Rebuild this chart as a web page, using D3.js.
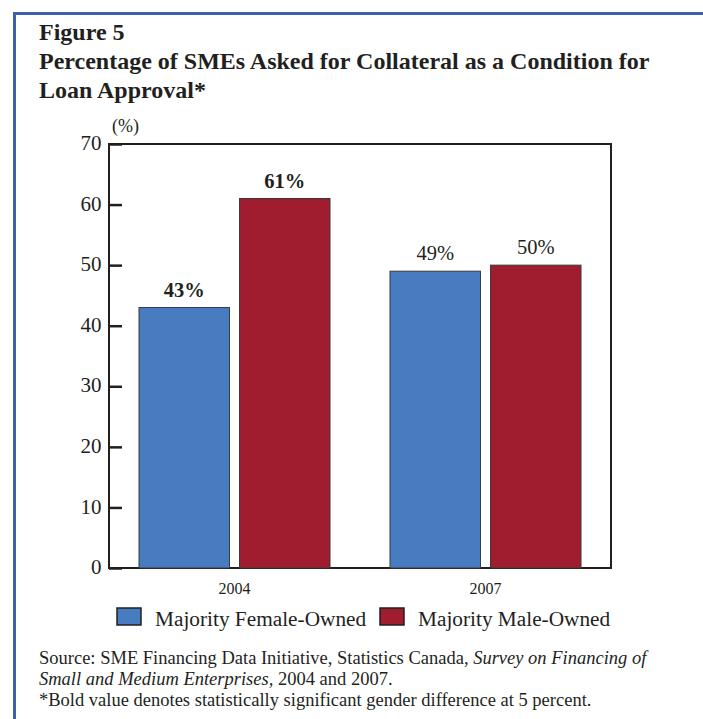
<!DOCTYPE html>
<html><head><meta charset="utf-8">
<script src="https://cdn.jsdelivr.net/npm/d3@7"></script>
<style>body{margin:0;background:#fff}</style>
</head><body>
<script>
const categories = ["2004", "2007"];
const seriesNames = ["Majority Female-Owned", "Majority Male-Owned"];
const femaleValues = [43, 49];
const maleValues = [61, 50];
const boldFlags = [true, false];
const yTicks = [0, 10, 20, 30, 40, 50, 60, 70];
const colors = ["#477dc0", "#a01c2f"];

(function () {
const W = 703, H = 719;
const svg = d3.select("body").append("svg").attr("width", W).attr("height", H);
const font = "'Liberation Serif', 'Times New Roman', serif";
const ink = "#231f20";

// border
svg.append("rect").attr("x", 13).attr("y", 12).attr("width", W - 13).attr("height", 3).attr("fill", "#3c5fae");
svg.append("rect").attr("x", 13).attr("y", 12).attr("width", 3).attr("height", H - 12).attr("fill", "#3c5fae");

// titles
const titles = ["Figure 5", "Percentage of SMEs Asked for Collateral as a Condition for", "Loan Approval*"];
titles.forEach((t, i) => {
  svg.append("text").attr("x", 39).attr("y", 40 + i * 29).text(t)
    .attr("font-family", font).attr("font-weight", "bold").attr("font-size", 24).attr("fill", ink);
});

const pL = 109, pR = 611, pT = 144, pB = 568;
const x0 = d3.scaleBand().domain(categories).range([pL, pR]).paddingInner(0).paddingOuter(0);
const x1 = d3.scaleBand().domain(seriesNames).range([30, x0.bandwidth() - 30]).paddingInner(0.1).paddingOuter(0);
const y = d3.scaleLinear().domain([0, 70]).range([pB, pT]);

// frame
svg.append("rect").attr("x", pL).attr("y", pT).attr("width", pR - pL).attr("height", pB - pT)
  .attr("fill", "none").attr("stroke", ink).attr("stroke-width", 2);

// y axis
const yAxis = d3.axisLeft(y).tickValues(yTicks).tickSize(-13).tickPadding(7.5).tickFormat(d3.format("d"));
const ga = svg.append("g").attr("transform", `translate(${pL},0)`).call(yAxis);
ga.select(".domain").remove();
ga.selectAll(".tick line").attr("stroke", ink).attr("stroke-width", 2.5);
ga.selectAll(".tick text").attr("font-family", font).attr("font-size", 21).attr("fill", ink).attr("dy", "0.27em");

svg.append("text").attr("x", 112).attr("y", 132).text("(%)")
  .attr("font-family", font).attr("font-size", 18).attr("fill", ink);

// bars
const rows = categories.map((c, i) => ({cat: c, vals: [femaleValues[i], maleValues[i]], bold: boldFlags[i]}));
rows.forEach(r => {
  r.vals.forEach((v, j) => {
    const bx = x0(r.cat) + x1(seriesNames[j]);
    svg.append("rect").attr("x", bx).attr("y", y(v)).attr("width", x1.bandwidth()).attr("height", y(0) - y(v))
      .attr("fill", colors[j]).attr("stroke", "#3a3a3a").attr("stroke-width", 1);
    svg.append("text").attr("x", bx + x1.bandwidth() / 2).attr("y", y(v) - 11).attr("text-anchor", "middle")
      .text(v + "%").attr("font-family", font).attr("font-size", 20.5)
      .attr("font-weight", r.bold ? "bold" : "normal").attr("fill", ink);
  });
  svg.append("text").attr("x", x0(r.cat) + x0.bandwidth() / 2).attr("y", 594).attr("text-anchor", "middle")
    .text(r.cat).attr("font-family", font).attr("font-size", 16).attr("fill", ink);
});

// legend
const legX = [117, 380];
seriesNames.forEach((s, j) => {
  svg.append("rect").attr("x", legX[j]).attr("y", 608).attr("width", 24).attr("height", 17)
    .attr("fill", colors[j]).attr("stroke", ink).attr("stroke-width", 1.5);
  svg.append("text").attr("x", legX[j] + 38).attr("y", 626).text(s)
    .attr("font-family", font).attr("font-size", 21.3).attr("fill", ink);
});

// footer
const fs = 18.5;
const f1 = svg.append("text").attr("x", 39).attr("y", 664).attr("font-family", font).attr("font-size", fs).attr("fill", ink);
f1.append("tspan").text("Source: SME Financing Data Initiative, Statistics Canada, ");
f1.append("tspan").attr("font-style", "italic").text("Survey on Financing of");
const f2 = svg.append("text").attr("x", 39).attr("y", 685).attr("font-family", font).attr("font-size", fs).attr("fill", ink);
f2.append("tspan").attr("font-style", "italic").text("Small and Medium Enterprises,");
f2.append("tspan").text(" 2004 and 2007.");
svg.append("text").attr("x", 39).attr("y", 706).attr("font-family", font).attr("font-size", fs).attr("fill", ink)
  .text("*Bold value denotes statistically significant gender difference at 5 percent.");
})();
</script>
</body></html>
